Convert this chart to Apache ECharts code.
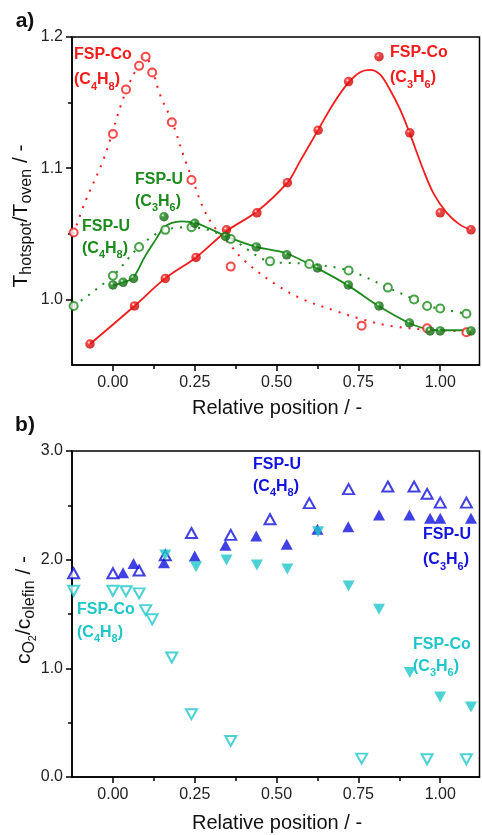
<!DOCTYPE html>
<html>
<head>
<meta charset="utf-8">
<script src="https://cdn.jsdelivr.net/npm/echarts@6/dist/echarts.min.js"></script>
<style>
  html, body { margin: 0; padding: 0; background: #fff; }
  #chart { width: 482px; height: 835px; }
</style>
</head>
<body>
<div id="chart"></div>
<script>
// ---- axis ticks ----
const xTicks = [0, 0.25, 0.5, 0.75, 1.0];
const xMinorTicks = [0.125, 0.375, 0.625, 0.875];
const tempTicks = [1.0, 1.1, 1.2];
const tempMinorTicks = [1.05, 1.15];
const ratioTicks = [0, 1, 2, 3];
const ratioMinorTicks = [0.5, 1.5, 2.5];

// ---- panel a: T_hotspot / T_oven ----
// FSP-Co, C3H6 feed (filled circles)
const coC3H6X = [-0.07, 0.066, 0.16, 0.254, 0.347, 0.44, 0.533, 0.627, 0.72, 0.813, 0.907, 1.0, 1.094];
const coC3H6T = [0.966, 0.995, 1.016, 1.032, 1.053, 1.066, 1.089, 1.129, 1.166, 1.185, 1.127, 1.066, 1.053];
// fitted profile through FSP-Co, C3H6
const coC3H6FitX = [-0.07, 0.066, 0.16, 0.254, 0.347, 0.44, 0.533, 0.571, 0.629, 0.673, 0.719, 0.754, 0.785, 0.816, 0.846, 0.877, 0.907, 0.948, 0.979, 1.02, 1.06, 1.094];
const coC3H6FitT = [0.966, 0.995, 1.016, 1.032, 1.052, 1.067, 1.089, 1.105, 1.130, 1.149, 1.165, 1.173, 1.175, 1.1715, 1.160, 1.145, 1.1265, 1.099, 1.081, 1.066, 1.057, 1.053];

// FSP-Co, C4H8 feed (open circles)
const coC4H8X = [-0.12, 0, 0.04, 0.08, 0.1, 0.12, 0.18, 0.24, 0.36, 0.76, 0.96, 1.08];
const coC4H8T = [1.051, 1.126, 1.160, 1.178, 1.185, 1.173, 1.135, 1.091, 1.025, 0.980, 0.978, 0.975];
const coC4H8FitX = [-0.12, -0.086, -0.029, 0.027, 0.052, 0.078, 0.098, 0.12, 0.144, 0.18, 0.22, 0.251, 0.269, 0.302, 0.353, 0.404, 0.5, 0.581, 0.683, 0.765, 0.856, 0.958, 1.081];
const coC4H8FitT = [1.050, 1.0736, 1.1066, 1.150, 1.1657, 1.178, 1.1855, 1.175, 1.156, 1.136, 1.1066, 1.0863, 1.0736, 1.058, 1.043, 1.029, 1.011, 1.000, 0.991, 0.9845, 0.9794, 0.977, 0.9756];

// FSP-U, C3H6 feed (filled circles)
const uC3H6X = [0, 0.031, 0.063, 0.156, 0.25, 0.344, 0.438, 0.531, 0.625, 0.719, 0.813, 0.906, 0.969, 1.0, 1.094];
const uC3H6T = [1.011, 1.013, 1.016, 1.063, 1.058, 1.048, 1.040, 1.034, 1.024, 1.011, 0.995, 0.982, 0.976, 0.976, 0.976];
const uC3H6FitX = [0, 0.031, 0.06, 0.098, 0.134, 0.154, 0.18, 0.21, 0.251, 0.302, 0.347, 0.438, 0.53, 0.622, 0.719, 0.813, 0.905, 0.969, 1.0, 1.094];
const uC3H6FitT = [1.0105, 1.013, 1.016, 1.0328, 1.0469, 1.0545, 1.0583, 1.0595, 1.0583, 1.0532, 1.048, 1.040, 1.035, 1.024, 1.0105, 0.9947, 0.982, 0.9769, 0.9765, 0.9765];

// FSP-U, C4H8 feed (open circles)
const uC4H8X = [-0.12, 0, 0.08, 0.16, 0.24, 0.36, 0.48, 0.6, 0.72, 0.84, 0.92, 0.96, 1.0, 1.08];
const uC4H8T = [0.995, 1.018, 1.040, 1.053, 1.055, 1.046, 1.029, 1.027, 1.022, 1.009, 1.000, 0.995, 0.993, 0.989];

// ---- panel b: c_O2 / c_olefin ----
const uC4H8RX = [-0.12, 0, 0.08, 0.16, 0.24, 0.36, 0.48, 0.6, 0.72, 0.84, 0.92, 0.96, 1.0, 1.08];
const uC4H8R = [1.875, 1.875, 1.90, 2.04, 2.245, 2.228, 2.372, 2.52, 2.649, 2.673, 2.673, 2.606, 2.525, 2.525];
const uC3H6RX = [0.031, 0.063, 0.156, 0.25, 0.344, 0.438, 0.531, 0.625, 0.719, 0.813, 0.906, 0.969, 1.0, 1.094];
const uC3H6R = [1.88, 1.965, 1.972, 2.034, 2.133, 2.218, 2.142, 2.28, 2.304, 2.412, 2.412, 2.381, 2.381, 2.381];
const coC4H8RX = [-0.12, 0, 0.04, 0.08, 0.1, 0.12, 0.18, 0.24, 0.36, 0.76, 0.96, 1.08];
const coC4H8R = [1.714, 1.714, 1.71, 1.69, 1.536, 1.451, 1.10, 0.578, 0.332, 0.169, 0.163, 0.163];
const coC3H6RX = [0.16, 0.254, 0.347, 0.44, 0.533, 0.627, 0.72, 0.813, 0.907, 1.0, 1.094];
const coC3H6R = [2.043, 1.935, 1.997, 1.951, 1.914, 2.258, 1.758, 1.543, 0.962, 0.737, 0.645];

// ---- styling ----
const RED = '#f31c1c', GREEN = '#1c8a1c', BLUE = '#1212dc', CYAN = '#1fc6c9';
const FONT = 'Liberation Sans, Arial, Helvetica, sans-serif';

const pts = (xs, ys) => xs.map((x, i) => [x, ys[i]]);

function ball(c, dark) {
  return {
    type: 'radial', x: 0.38, y: 0.35, r: 0.7,
    colorStops: [
      { offset: 0, color: '#ffffff' },
      { offset: 0.25, color: c },
      { offset: 1, color: dark }
    ]
  };
}

function majorX(grid) {
  return {
    type: 'value', gridIndex: grid, min: -0.125, max: 1.12, position: 'bottom',
    axisLine: { show: true, onZero: false, lineStyle: { color: '#000', width: 1.5 } },
    axisTick: { show: true, customValues: xTicks, length: 6, lineStyle: { color: '#000', width: 1.5 } },
    axisLabel: { show: true, customValues: xTicks, margin: 10, fontSize: 16, color: '#222', fontFamily: FONT,
      formatter: v => v.toFixed(2) },
    splitLine: { show: false }
  };
}
function minorX(grid) {
  return {
    type: 'value', gridIndex: grid, min: -0.125, max: 1.12, position: 'bottom',
    axisLine: { show: false, onZero: false },
    axisTick: { show: true, customValues: xMinorTicks, length: 4, lineStyle: { color: '#000', width: 1.5 } },
    axisLabel: { show: false },
    splitLine: { show: false }
  };
}
function majorY(grid, min, max, ticks) {
  return {
    type: 'value', gridIndex: grid, min: min, max: max, position: 'left',
    axisLine: { show: true, onZero: false, lineStyle: { color: '#000', width: 1.5 } },
    axisTick: { show: true, customValues: ticks, length: 6, lineStyle: { color: '#000', width: 1.5 } },
    axisLabel: { show: true, customValues: ticks, margin: 9, fontSize: 16, color: '#222', fontFamily: FONT,
      formatter: v => v.toFixed(1) },
    splitLine: { show: false }
  };
}
function minorY(grid, min, max, ticks) {
  return {
    type: 'value', gridIndex: grid, min: min, max: max, position: 'left',
    axisLine: { show: false, onZero: false },
    axisTick: { show: true, customValues: ticks, length: 4, lineStyle: { color: '#000', width: 1.5 } },
    axisLabel: { show: false },
    splitLine: { show: false }
  };
}

// two-line sample label: name + feed gas with subscripts
function sampleLabel(x, y, color, name, c, h, gap) {
  const lh = gap || 23;
  return {
    type: 'text', x: x, y: y - lh / 2, z: 100,
    style: {
      text: '{m|' + name + '}\n{m|(C}{s|' + c + '}{m|H}{s|' + h + '}{m|)}',
      align: 'left', textAlign: 'left', verticalAlign: 'top', textVerticalAlign: 'top',
      rich: {
        m: { fontSize: 16, fontWeight: 'bold', fontFamily: FONT, fill: color, color: color, lineHeight: lh },
        s: { fontSize: 11, fontWeight: 'bold', fontFamily: FONT, fill: color, color: color, lineHeight: 14, verticalAlign: 'bottom' }
      }
    }
  };
}

function plainText(x, y, text, size, weight, rot) {
  return {
    type: 'text', x: x, y: y, rotation: rot || 0, z: 100,
    style: {
      text: text, fontSize: size, fontWeight: weight || 'normal', fontFamily: FONT, fill: '#111',
      align: 'center', textAlign: 'center', verticalAlign: 'middle', textVerticalAlign: 'middle'
    }
  };
}

function richTitle(x, y, parts, rot) {
  return {
    type: 'text', x: x, y: y, rotation: rot, z: 100,
    style: {
      text: parts,
      align: 'center', textAlign: 'center', verticalAlign: 'middle', textVerticalAlign: 'middle',
      rich: {
        m: { fontSize: 21, fontFamily: FONT, fill: '#111', color: '#111', lineHeight: 28 },
        s: { fontSize: 16, fontFamily: FONT, fill: '#111', color: '#111', lineHeight: 16, verticalAlign: 'bottom' },
        ss: { fontSize: 11, fontFamily: FONT, fill: '#111', color: '#111', lineHeight: 8, verticalAlign: 'bottom' }
      }
    }
  };
}

const chart = echarts.init(document.getElementById('chart'), null, { renderer: 'canvas' });

const option = {
  animation: false,
  backgroundColor: '#fff',
  grid: [
    { left: 72, top: 37, width: 407.5, height: 328, show: true, borderColor: '#000', borderWidth: 1.5, backgroundColor: 'transparent' },
    { left: 72, top: 451, width: 407.5, height: 326, show: true, borderColor: '#000', borderWidth: 1.5, backgroundColor: 'transparent' }
  ],
  xAxis: [majorX(0), minorX(0), majorX(1), minorX(1)],
  yAxis: [
    majorY(0, 0.95, 1.2, tempTicks), minorY(0, 0.95, 1.2, tempMinorTicks),
    majorY(1, 0, 3, ratioTicks), minorY(1, 0, 3, ratioMinorTicks)
  ],
  series: [
    // panel a: profile curves
    { type: 'line', xAxisIndex: 0, yAxisIndex: 0, data: pts(coC3H6FitX, coC3H6FitT), smooth: 0.35,
      showSymbol: false, lineStyle: { color: RED, width: 1.8 }, z: 2 },
    { type: 'line', xAxisIndex: 0, yAxisIndex: 0, data: pts(coC4H8FitX, coC4H8FitT), smooth: 0.35,
      showSymbol: false, lineStyle: { color: RED, width: 2, type: [2, 7] }, z: 2 },
    { type: 'line', xAxisIndex: 0, yAxisIndex: 0, data: pts(uC3H6FitX, uC3H6FitT), smooth: 0.35,
      showSymbol: false, lineStyle: { color: GREEN, width: 1.8 }, z: 2 },
    { type: 'line', xAxisIndex: 0, yAxisIndex: 0, data: pts(uC4H8X, uC4H8T), smooth: 0.35,
      showSymbol: false, lineStyle: { color: GREEN, width: 2, type: [2, 7] }, z: 2 },
    // panel a: measured points
    { type: 'scatter', xAxisIndex: 0, yAxisIndex: 0, data: pts(coC4H8X, coC4H8T), symbol: 'emptyCircle', symbolSize: 8,
      itemStyle: { color: RED, borderColor: RED, borderWidth: 1.6 }, z: 3 },
    { type: 'scatter', xAxisIndex: 0, yAxisIndex: 0, data: pts(uC4H8X, uC4H8T), symbol: 'emptyCircle', symbolSize: 8,
      itemStyle: { color: GREEN, borderColor: GREEN, borderWidth: 1.6 }, z: 3 },
    { type: 'scatter', xAxisIndex: 0, yAxisIndex: 0, data: pts(coC3H6X, coC3H6T), symbol: 'circle', symbolSize: 9.5,
      itemStyle: { color: ball(RED, '#c00000') }, z: 4 },
    { type: 'scatter', xAxisIndex: 0, yAxisIndex: 0, data: pts(uC3H6X, uC3H6T), symbol: 'circle', symbolSize: 9.5,
      itemStyle: { color: ball(GREEN, '#0a5a0a') }, z: 4 },
    // panel b
    { type: 'scatter', xAxisIndex: 2, yAxisIndex: 2, data: pts(uC4H8RX, uC4H8R), symbol: 'emptyTriangle', symbolSize: [11, 10],
      itemStyle: { color: BLUE, borderColor: BLUE, borderWidth: 1.4 }, z: 3 },
    { type: 'scatter', xAxisIndex: 2, yAxisIndex: 2, data: pts(coC4H8RX, coC4H8R), symbol: 'emptyTriangle', symbolSize: [11, 10],
      symbolRotate: 180, itemStyle: { color: CYAN, borderColor: CYAN, borderWidth: 1.4 }, z: 3 },
    { type: 'scatter', xAxisIndex: 2, yAxisIndex: 2, data: pts(uC3H6RX, uC3H6R), symbol: 'triangle', symbolSize: [12, 11],
      itemStyle: { color: BLUE }, z: 4 },
    { type: 'scatter', xAxisIndex: 2, yAxisIndex: 2, data: pts(coC3H6RX, coC3H6R), symbol: 'triangle', symbolSize: [12, 11],
      symbolRotate: 180, itemStyle: { color: CYAN }, z: 5 }
  ],
  graphic: [
    plainText(25, 21, 'a)', 21, 'bold'),
    plainText(25, 425, 'b)', 21, 'bold'),
    plainText(277, 408, 'Relative position / -', 20),
    plainText(277, 823, 'Relative position / -', 20),
    richTitle(21, 216, '{m|T}{s|hotspot}{m|/T}{s|oven}{m| / -}', Math.PI / 2),
    richTitle(24, 610, '{m|c}{s|O}{ss|2}{m|/c}{s|olefin}{m| / -}', Math.PI / 2),
    sampleLabel(74, 55, RED, 'FSP-Co', '4', '8', 25),
    sampleLabel(390, 53, RED, 'FSP-Co', '3', '6', 25),
    sampleLabel(135, 180, GREEN, 'FSP-U', '3', '6', 22),
    sampleLabel(82, 227, GREEN, 'FSP-U', '4', '8', 22),
    sampleLabel(253, 465, BLUE, 'FSP-U', '4', '8', 22),
    sampleLabel(423, 535, BLUE, 'FSP-U', '3', '6', 25),
    sampleLabel(77, 610, CYAN, 'FSP-Co', '4', '8', 23),
    sampleLabel(413, 645, CYAN, 'FSP-Co', '3', '6', 22)
  ]
};

chart.setOption(option);
</script>
</body>
</html>
